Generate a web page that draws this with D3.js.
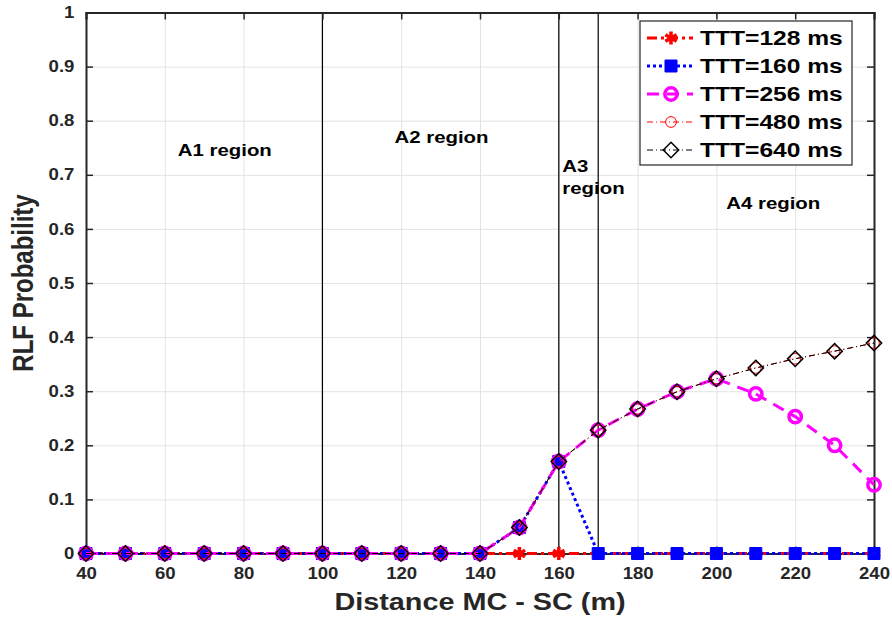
<!DOCTYPE html>
<html>
<head>
<meta charset="utf-8">
<script src="https://cdn.jsdelivr.net/npm/d3@7"></script>
<style>
  body { margin: 0; background: #fff; }
  text { font-family: "Liberation Sans", Arial, sans-serif; font-weight: bold; }
</style>
</head>
<body>
<div id="container"></div>
<script>
'use strict';

const w = 892;
const h = 619;
const plotLeft = 86, plotRight = 874, plotTop = 12.5, plotBottom = 553.5;
const stretch = 1.2;

// data
const distance = [40, 50, 60, 70, 80, 90, 100, 110, 120, 130, 140, 150, 160, 170, 180, 190, 200, 210, 220, 230, 240];
const ttt128 = [0, 0, 0, 0, 0, 0, 0, 0, 0, 0, 0, 0, 0, 0, 0, 0, 0, 0, 0, 0, 0];
const ttt160 = [0, 0, 0, 0, 0, 0, 0, 0, 0, 0, 0, 0.048, 0.17, 0, 0, 0, 0, 0, 0, 0, 0];
const ttt256 = [0, 0, 0, 0, 0, 0, 0, 0, 0, 0, 0, 0.048, 0.17, 0.228, 0.267, 0.299, 0.323, 0.295, 0.253, 0.2, 0.127];
const ttt480 = [0, 0, 0, 0, 0, 0, 0, 0, 0, 0, 0, 0.048, 0.17, 0.228, 0.267, 0.299, 0.323, 0.343, 0.36, 0.374, 0.389];
const ttt640 = [0, 0, 0, 0, 0, 0, 0, 0, 0, 0, 0, 0.048, 0.17, 0.228, 0.267, 0.299, 0.323, 0.343, 0.36, 0.374, 0.389];
const seriesNames = ['TTT=128 ms', 'TTT=160 ms', 'TTT=256 ms', 'TTT=480 ms', 'TTT=640 ms'];
const xTicks = [40, 60, 80, 100, 120, 140, 160, 180, 200, 220, 240];
const yTicks = [0, 0.1, 0.2, 0.3, 0.4, 0.5, 0.6, 0.7, 0.8, 0.9, 1];
const regionBounds = [100, 160, 170];
const regionLabels = [
    { lines: ['A1 region'], x: 63.3, y: 0.735 },
    { lines: ['A2 region'], x: 118.3, y: 0.759 },
    { lines: ['A3', 'region'], x: 160.9, y: 0.705 },
    { lines: ['A4 region'], x: 202.5, y: 0.637 }
];

const styles = [
    { color: '#ff0000', width: 3, dash: '10,4,3,4', symbol: d3.symbolAsterisk, size: 120, fill: 'none', sw: 3.5 },
    { color: '#0000ff', width: 3, dash: '3,3', symbol: d3.symbolSquare, size: 144, fill: '#0000ff', sw: 1 },
    { color: '#ff00ff', width: 3, dash: '12,8', symbol: d3.symbolCircle, size: 120, fill: 'none', sw: 3.5 },
    { color: '#ff0000', width: 1, dash: '6,3,1,3', symbol: d3.symbolCircle, size: 90, fill: 'none', sw: 1 },
    { color: '#000000', width: 1, dash: '6,3,1,3', symbol: d3.symbolDiamond2, size: 150, fill: 'none', sw: 1.5 }
];
const series = [ttt128, ttt160, ttt256, ttt480, ttt640];

const svg = d3.select('#container')
    .append('svg')
    .attr('width', w)
    .attr('height', h);

const xScale = d3.scaleLinear().domain([40, 240]).range([plotLeft, plotRight]);
const yScale = d3.scaleLinear().domain([0, 1]).range([plotBottom, plotTop]);

function stretchText(g, x, y, txt, anchor, size) {
    return g.append('text')
        .attr('transform', 'translate(' + x + ',' + y + ') scale(' + stretch + ',1)')
        .attr('text-anchor', anchor)
        .attr('font-size', size)
        .attr('fill', '#000')
        .text(txt);
}

// grid
svg.append('g')
    .attr('class', 'grid')
    .attr('transform', 'translate(0,' + plotBottom + ')')
    .call(d3.axisBottom(xScale).tickValues(xTicks).tickSize(-(plotBottom - plotTop)).tickFormat(''))
    .call((g) => g.select('.domain').remove());
svg.append('g')
    .attr('class', 'grid')
    .attr('transform', 'translate(' + plotLeft + ',0)')
    .call(d3.axisLeft(yScale).tickValues(yTicks).tickSize(-(plotRight - plotLeft)).tickFormat(''))
    .call((g) => g.select('.domain').remove());
svg.selectAll('.grid line').attr('stroke', '#e3e3e3');

// region boundaries
svg.selectAll('.region')
    .data(regionBounds)
    .enter()
    .append('line')
    .attr('x1', (d) => xScale(d))
    .attr('x2', (d) => xScale(d))
    .attr('y1', yScale(0))
    .attr('y2', yScale(1))
    .attr('stroke', '#000')
    .attr('stroke-width', 1.2);

// axes
const xAxis = svg.append('g')
    .attr('class', 'ax')
    .attr('transform', 'translate(0,' + plotBottom + ')')
    .call(d3.axisBottom(xScale).tickValues(xTicks).tickSize(-7).tickPadding(14).tickFormat(d3.format('d')));
const yAxis = svg.append('g')
    .attr('class', 'ax')
    .attr('transform', 'translate(' + plotLeft + ',0)')
    .call(d3.axisLeft(yScale).tickValues(yTicks).tickSize(-7).tickPadding(10).tickFormat((d) => d === 0 || d === 1 ? d : d3.format('.1f')(d)));
svg.append('g')
    .attr('class', 'ax')
    .attr('transform', 'translate(0,' + plotTop + ')')
    .call(d3.axisTop(xScale).tickValues(xTicks).tickSize(-7).tickFormat(''));
svg.append('g')
    .attr('class', 'ax')
    .attr('transform', 'translate(' + plotRight + ',0)')
    .call(d3.axisRight(yScale).tickValues(yTicks).tickSize(-7).tickFormat(''));
svg.selectAll('.ax .domain').attr('stroke', '#262626').attr('stroke-width', 2);
svg.selectAll('.ax .tick line').attr('stroke', '#262626').attr('stroke-width', 1.5);
[xAxis, yAxis].forEach((a) => {
    a.selectAll('text')
        .attr('font-size', 16)
        .attr('fill', '#262626')
        .attr('font-family', '"Liberation Sans", Arial, sans-serif')
        .attr('transform', 'scale(1.16,1)');
});

// series
const line = d3.line()
    .x((d) => xScale(d[0]))
    .y((d) => yScale(d[1]));

series.forEach((vals, i) => {
    const s = styles[i];
    const pts = distance.map((d, j) => [d, vals[j]]);
    svg.append('path')
        .datum(pts)
        .attr('d', line)
        .attr('fill', 'none')
        .attr('stroke', s.color)
        .attr('stroke-width', s.width)
        .attr('stroke-dasharray', s.dash);
    svg.append('g')
        .selectAll('path')
        .data(pts)
        .enter()
        .append('path')
        .attr('d', d3.symbol().type(s.symbol).size(s.size))
        .attr('transform', (d) => 'translate(' + xScale(d[0]) + ',' + yScale(d[1]) + ')')
        .attr('fill', s.fill)
        .attr('stroke', s.color)
        .attr('stroke-width', s.sw);
});

// region labels
regionLabels.forEach((r) => {
    r.lines.forEach((t, k) => {
        stretchText(svg, xScale(r.x), yScale(r.y) + k * 22, t, 'start', 17);
    });
});

// legend
const legend = svg.append('g');
legend.append('rect')
    .attr('x', 640).attr('y', 21)
    .attr('width', 212).attr('height', 144)
    .attr('fill', '#fff')
    .attr('stroke', '#262626')
    .attr('stroke-width', 1.2);
seriesNames.forEach((name, i) => {
    const s = styles[i];
    const cy = 38 + i * 28;
    legend.append('line')
        .attr('x1', 647).attr('x2', 693)
        .attr('y1', cy).attr('y2', cy)
        .attr('stroke', s.color)
        .attr('stroke-width', s.width)
        .attr('stroke-dasharray', s.dash);
    legend.append('path')
        .attr('d', d3.symbol().type(s.symbol).size(s.size))
        .attr('transform', 'translate(671,' + cy + ')')
        .attr('fill', s.fill)
        .attr('stroke', s.color)
        .attr('stroke-width', s.sw);
    stretchText(legend, 700, cy + 7, name, 'start', 20.5);
});

// axis titles
stretchText(svg, 480, 610, 'Distance MC - SC (m)', 'middle', 24).attr('fill', '#262626');
svg.append('text')
    .attr('transform', 'translate(33,283) scale(' + stretch + ',1) rotate(-90)')
    .attr('text-anchor', 'middle')
    .attr('font-size', 24)
    .attr('fill', '#262626')
    .text('RLF Probability');
</script>
</body>
</html>
